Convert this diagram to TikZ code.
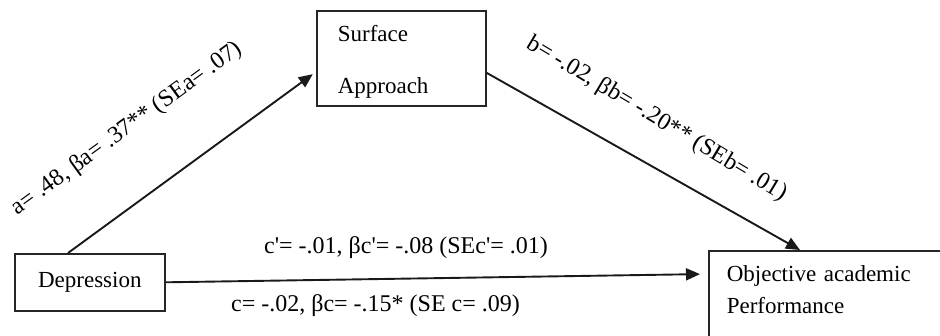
\documentclass[tikz,border=0pt]{standalone}
\usepackage{fontspec}
\setmainfont{Liberation Serif}
\usetikzlibrary{arrows.meta}
\begin{document}
\begin{tikzpicture}[x=1pt,y=-1pt,
  box/.style={draw=black!85, line width=1.6pt},
  lbl/.style={inner sep=0pt, font=\fontsize{24}{28}\selectfont},
  conn/.style={line width=1.9pt, draw=black!90, -{Triangle[length=14pt,width=12pt]}}]
\useasboundingbox (0,0) rectangle (940,335);
\clip (0,0) rectangle (940,335);
% boxes
\node[box, anchor=north west, minimum width=169pt, minimum height=95pt,
      text width=127pt, inner xsep=21pt, inner ysep=0pt, align=left,
      font=\fontsize{23}{52}\selectfont] (sa) at (316,10) {\rule{0pt}{24pt}Surface\\Approach};
\node[box, anchor=north west, minimum width=150pt, minimum height=57pt,
      inner sep=0pt, font=\fontsize{23}{27}\selectfont] (dep) at (14,253) {Depression};
\node[box, anchor=north west, text width=230pt, inner xsep=18pt, inner ysep=15pt,
      align=left, text depth=60pt, font=\fontsize{23}{32}\selectfont] (obj) at (708,250)
      {Objective academic\\Performance};
% connectors
\draw[conn, shorten >=4pt] ([xshift=54pt]dep.north west) -- ([yshift=-13.5pt]sa.west);
\draw[conn] ([yshift=-14.5pt]sa.east) -- ([xshift=92pt]obj.north west);
\draw[conn, shorten >=8pt] (dep.east) -- ([yshift=-24pt]obj.north west);
% labels
\node[lbl, rotate=36] (la) at (127,129) {a= .48, βa= .37** (SEa= .07)};
\node[lbl, rotate=-31] (lb) at (657,119) {b= -.02, βb= -.20** (SEb= .01)};
\node[lbl, anchor=base] (lcp) at (406,253) {c\textquotesingle= -.01, βc\textquotesingle= -.08 (SEc\textquotesingle= .01)};
\node[lbl, anchor=base] (lc) at (375.5,311) {c= -.02, βc= -.15* (SE c= .09)};
\end{tikzpicture}
\end{document}
